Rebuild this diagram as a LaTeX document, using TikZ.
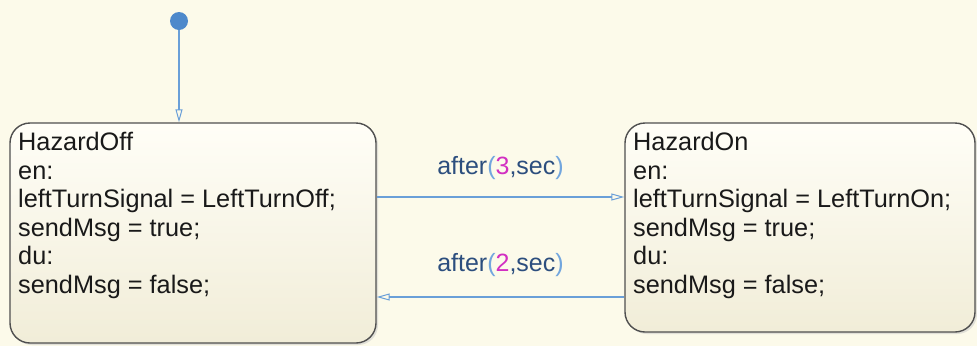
\documentclass[tikz,border=0pt]{standalone}
\usepackage{fontspec}
\setmainfont{Liberation Sans}
\usetikzlibrary{arrows.meta, shadows}
\definecolor{chartbg}{HTML}{FCFAEA}
\definecolor{statetop}{HTML}{FFFEF7}
\definecolor{statebot}{HTML}{F1EDD8}
\definecolor{stateedge}{HTML}{4F4F4F}
\definecolor{transblue}{HTML}{6A9FD8}
\definecolor{labelblue}{HTML}{2C4E7E}
\definecolor{parenblue}{HTML}{72A6DE}
\definecolor{nummag}{HTML}{D22FC2}
\definecolor{dotblue}{HTML}{4E89CB}

\tikzset{
  statebox/.style={rectangle, rounded corners=20pt, draw=stateedge, line width=1.4pt,
    top color=statetop, bottom color=statebot,
    drop shadow={shadow xshift=2pt, shadow yshift=-2pt, fill=black!22}},
  statetext/.style={anchor=north west, inner sep=0pt, align=left, text=black!90,
    font=\fontsize{25.3}{28.6}\selectfont},
  trans/.style={draw=transblue, line width=1.1pt,
    -{Triangle[open, length=13pt, width=7pt, line width=1pt]}},
  translabel/.style={inner sep=0pt, anchor=base, text=labelblue, font=\fontsize{25}{28}\selectfont}
}
\newcommand{\aftlabel}[1]{after{\color{parenblue}(}{\color{nummag}#1}{\color{labelblue},sec}{\color{parenblue})}}

\begin{document}
\begin{tikzpicture}[x=1pt, y=-1pt]
\fill[chartbg] (0,0) rectangle (977,346);
\useasboundingbox (0,0) rectangle (977,346);

% states
\node[statebox, minimum width=366pt, minimum height=220pt] (off) at (193,233) {};
\node[statebox, minimum width=350pt, minimum height=209pt] (on) at (800,227.5) {};
\node[statetext] (offtext) at (18,132) {HazardOff\\en:\\leftTurnSignal = LeftTurnOff;\\sendMsg = true;\\du:\\sendMsg = false;};
\node[statetext] (ontext) at (633,132) {HazardOn\\en:\\leftTurnSignal = LeftTurnOn;\\sendMsg = true;\\du:\\sendMsg = false;};

% default transition
\node[circle, fill=dotblue, minimum size=18pt, inner sep=0pt] (init) at (179,21) {};
\draw[trans] (init) -- (init |- off.north);

% transitions
\draw[trans] (off.east |- 0,197) -- node[translabel, yshift=23pt] (lbl3) {\aftlabel{3}} (on.west |- 0,197);
\draw[trans] (on.west |- 0,297) -- node[translabel, yshift=26pt] (lbl2) {\aftlabel{2}} (off.east |- 0,297);
\end{tikzpicture}
\end{document}
